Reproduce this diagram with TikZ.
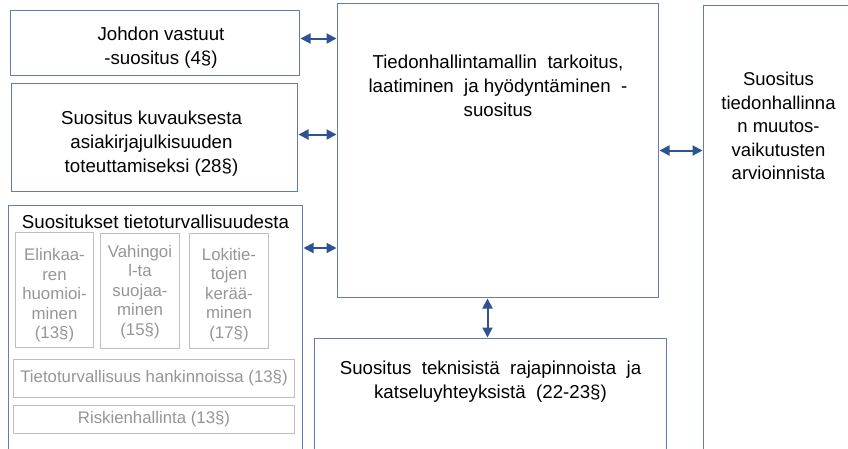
\documentclass[tikz,border=0pt]{standalone}
\usepackage{fontspec}
\setmainfont{Liberation Sans}
\usepackage{tikz}
\usetikzlibrary{arrows.meta,positioning,calc}
\definecolor{laatikko}{RGB}{100,124,178}
\definecolor{nuoli}{RGB}{47,82,148}
\definecolor{harmaa}{RGB}{150,150,150}
\definecolor{harmaaR}{RGB}{192,192,192}
\tikzset{
  laatikko/.style={rectangle, draw=laatikko, line width=1pt, fill=white, anchor=north west,
                   align=center, inner sep=0pt, font=\fontsize{18.7}{24}\selectfont},
  alilaatikko/.style={rectangle, draw=harmaaR, line width=1pt, anchor=north west,
                   align=center, inner sep=0pt, text=harmaa, font=\fontsize{16.8}{19.5}\selectfont},
  ylaotsikko/.style={anchor=north, inner sep=0pt, align=center, font=\fontsize{18.7}{24}\selectfont},
  alaotsikko/.style={anchor=north, inner sep=0pt, align=center, text=harmaa,
                     font=\fontsize{16.8}{19.5}\selectfont},
  kaksinuoli/.style={{Triangle[length=10pt,width=10pt]}-{Triangle[length=10pt,width=10pt]},
                     line width=2pt, draw=nuoli, shorten <=0.5pt, shorten >=0.5pt},
}
\begin{document}
\begin{tikzpicture}[x=1pt, y=-1pt]
    \useasboundingbox (0,0) rectangle (848,448);
    \clip (0,0) rectangle (848,448);
    % vasen sarake
    \node[laatikko, minimum width=289pt, minimum height=65pt,
          label={[ylaotsikko, yshift=-17pt, xshift=6pt]north:{Johdon vastuut\\-suositus (4§)}}] (johdon) at (10,10) {};
    \node[laatikko, minimum width=286pt, minimum height=108pt,
          label={[ylaotsikko, yshift=-28pt, xshift=-3pt]north:{Suositus kuvauksesta\\asiakirjajulkisuuden\\
                 toteuttamiseksi (28§)}}] (kuvaus) at (11,83) {};
    \node[laatikko, minimum width=294pt, minimum height=260pt,
          label={[ylaotsikko, yshift=-10pt]north:Suositukset tietoturvallisuudesta}] (turva) at (8,205) {};
    \node[alilaatikko, minimum width=78pt, minimum height=115pt,
          label={[alaotsikko, yshift=-16.5pt]north:{Elinkaa-\\ren\\huomioi-\\minen\\(13§)}}] (elinkaari) at (15,232) {};
    \node[alilaatikko, minimum width=79pt, minimum height=115pt,
          label={[alaotsikko, yshift=-12pt]north:{Vahingoi\\l-ta\\suojaa-\\minen\\(15§)}}] (vahingot) at (100,233) {};
    \node[alilaatikko, minimum width=79pt, minimum height=115pt,
          label={[alaotsikko, yshift=-15pt]north:{Lokitie-\\tojen\\kerää-\\minen\\(17§)}}] (lokit) at (189,233) {};
    \node[alilaatikko, minimum width=281pt, minimum height=38pt] (hankinnat) at (13,359)
      {Tietoturvallisuus hankinnoissa (13§)};
    \node[alilaatikko, minimum width=281pt, minimum height=28pt] (riskit) at (13,405)
      {Riskienhallinta (13§)};
    % keskisarake
    \node[laatikko, minimum width=321pt, minimum height=294pt,
          label={[ylaotsikko, yshift=-52pt]north:{Tiedonhallintamallin\ \ tarkoitus,\\
                 laatiminen\ \ ja hyödyntäminen\ \ -\\suositus}}] (malli) at (337,3) {};
    \node[laatikko, minimum width=352pt, minimum height=130pt,
          label={[ylaotsikko, yshift=-23pt]north:{Suositus\ \ teknisistä\ \ rajapinnoista\ \ ja\\
                 katseluyhteyksistä\ \ (22-23§)}}] (rajapinnat) at (314,338) {};
    % oikea sarake
    \node[laatikko, minimum width=150pt, minimum height=460pt,
          label={[ylaotsikko, yshift=-67pt, font=\fontsize{18.5}{23.5}\selectfont]north:{Suositus\\
                 tiedonhallinna\\n muutos-\\vaikutusten\\arvioinnista}}] (muutos) at (703,5) {};
    % nuolet
    \coordinate (turvanuoli) at ($(turva.north east)+(0,43)$);
    \draw[kaksinuoli] ([yshift=4.5pt]johdon.east) -- ([yshift=4.5pt]johdon.east -| malli.west);
    \draw[kaksinuoli] ([yshift=3pt]kuvaus.east) -- ([yshift=3pt]kuvaus.east -| malli.west);
    \draw[kaksinuoli] (turvanuoli) -- (turvanuoli -| malli.west);
    \draw[kaksinuoli] ([xshift=-3pt]rajapinnat.north) -- ([xshift=-3pt]rajapinnat.north |- malli.south);
    \draw[kaksinuoli] (malli.east) -- (malli.east -| muutos.west);
  \end{tikzpicture}
\end{document}
